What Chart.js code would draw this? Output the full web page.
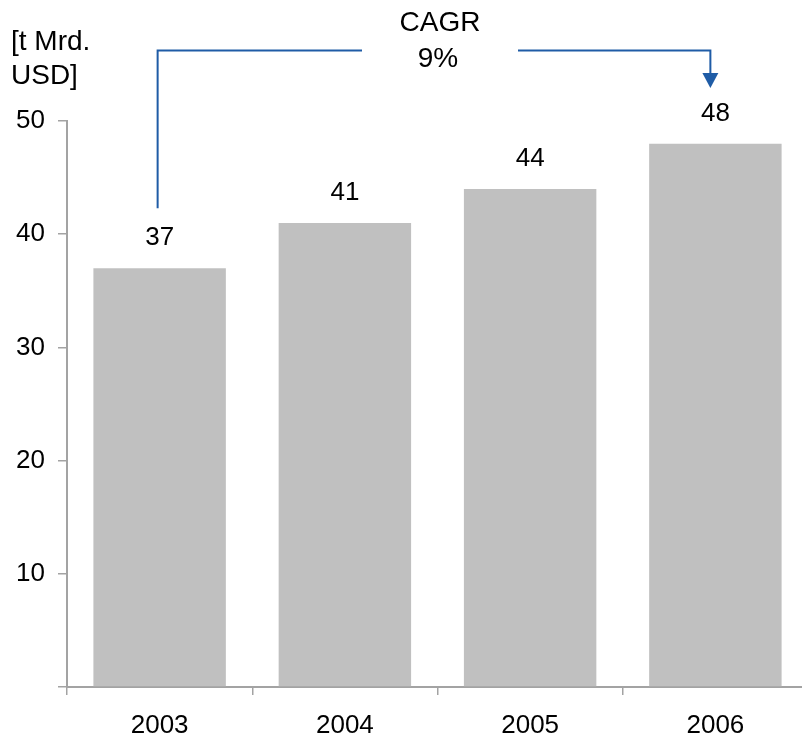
<!DOCTYPE html>
<html>
<head>
<meta charset="utf-8">
<script src="https://cdn.jsdelivr.net/npm/chart.js@4/dist/chart.umd.min.js"></script>
<style>
  html, body { margin: 0; padding: 0; background: #fff; overflow: hidden; }
  #wrap { width: 810px; height: 740px; }
</style>
</head>
<body>
<div id="wrap"><canvas id="chart"></canvas></div>
<script>
const years = ["2003", "2004", "2005", "2006"];
const values = [37, 41, 44, 48];
const yTicks = [0, 10, 20, 30, 40, 50];
const unitLines = ["[t Mrd.", "USD]"];
const cagrLines = ["CAGR", "9%"];

const FONT = "'Liberation Sans', Arial, sans-serif";
const AXIS_GRAY = "#a3a3a3";
const BLUE = "#1f5ca6";

const overlay = {
  id: "overlay",
  afterDatasetsDraw(chart) {
    const ctx = chart.ctx;
    const x = chart.scales.x;
    const y = chart.scales.y;
    ctx.save();
    ctx.fillStyle = "#000";
    ctx.font = `26px ${FONT}`;
    ctx.textAlign = "center";
    ctx.textBaseline = "middle";
    values.forEach((v, i) => {
      ctx.fillText(String(v), x.getPixelForValue(i), y.getPixelForValue(v) - 30);
    });

    // unit label
    ctx.font = `28px ${FONT}`;
    ctx.textAlign = "left";
    ctx.fillText(unitLines[0], 11, 42);
    ctx.fillText(unitLines[1], 11, 76);

    // CAGR connector
    const x0 = x.getPixelForValue(0) - 2;
    const x1 = x.getPixelForValue(3) - 5;
    const top = 50.5;
    const mid = (x0 + x1) / 2;
    ctx.textAlign = "center";
    ctx.fillText(cagrLines[0], mid + 6, 23);
    ctx.fillText(cagrLines[1], mid + 4, 59);

    ctx.strokeStyle = BLUE;
    ctx.lineWidth = 2;
    ctx.beginPath();
    ctx.moveTo(x0, y.getPixelForValue(values[0]) - 60);
    ctx.lineTo(x0, top);
    ctx.lineTo(mid - 72, top);
    ctx.moveTo(mid + 84, top);
    ctx.lineTo(x1, top);
    ctx.lineTo(x1, 74);
    ctx.stroke();

    ctx.fillStyle = BLUE;
    ctx.beginPath();
    ctx.moveTo(x1 - 8, 73);
    ctx.lineTo(x1 + 8, 73);
    ctx.lineTo(x1, 88);
    ctx.closePath();
    ctx.fill();
    ctx.restore();
  }
};

new Chart(document.getElementById("chart"), {
  type: "bar",
  data: {
    labels: years,
    datasets: [
      {
        data: values,
        backgroundColor: "#c0c0c0",
        categoryPercentage: 1,
        barPercentage: 0.715,
      },
    ],
  },
  options: {
    animation: false,
    responsive: true,
    maintainAspectRatio: false,
    layout: { padding: { top: 121, right: 2, left: 0, bottom: 0 } },
    plugins: {
      legend: { display: false },
      tooltip: { enabled: false },
    },
    scales: {
      x: {
        offset: true,
        grid: {
          offset: true,
          drawOnChartArea: false,
          drawTicks: true,
          tickLength: 8,
          color: AXIS_GRAY,
          lineWidth: 1.5,
        },
        border: { color: AXIS_GRAY, width: 2 },
        ticks: { color: "#000", font: { family: FONT, size: 26 }, padding: 15 },
        afterFit: (s) => { s.height = 53; },
      },
      y: {
        min: yTicks[0],
        max: yTicks[yTicks.length - 1],
        afterBuildTicks: (s) => { s.ticks = yTicks.map((v) => ({ value: v })); },
        grid: {
          drawOnChartArea: false,
          drawTicks: true,
          tickLength: 9,
          color: AXIS_GRAY,
          lineWidth: 1.5,
        },
        border: { color: AXIS_GRAY, width: 2 },
        ticks: {
          color: "#000",
          font: { family: FONT, size: 26 },
          padding: 13,
          callback: (v) => (v === 0 ? "" : v),
        },
        afterFit: (s) => { s.width = 67; },
      },
    },
  },
  plugins: [overlay],
});
</script>
</body>
</html>
